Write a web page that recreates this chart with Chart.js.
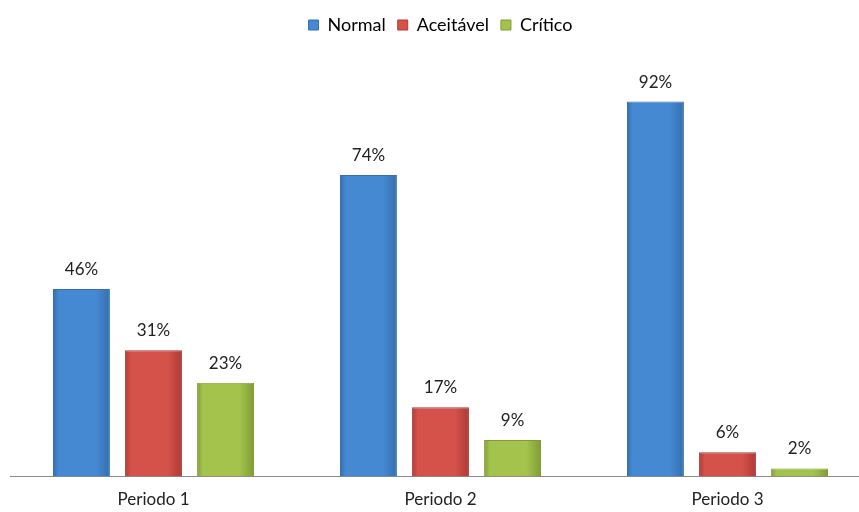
<!DOCTYPE html>
<html>
<head>
<meta charset="utf-8">
<script src="https://cdn.jsdelivr.net/npm/chart.js@4.4.0/dist/chart.umd.min.js"></script>
<style>
  html, body { margin: 0; padding: 0; background: #fff; overflow: hidden; }
  #wrap { width: 880px; height: 517px; position: relative; }
</style>
</head>
<body>
<div id="wrap"><canvas id="chart"></canvas></div>
<script>
// data
const periods = ['Periodo 1', 'Periodo 2', 'Periodo 3'];
const normal = [46, 74, 92];
const aceitavel = [31, 17, 6];
const critico = [23, 9, 2];

const seriesNames = ['Normal', 'Aceitável', 'Crítico'];
const fills = ['#4689d3', '#d5524b', '#a3c34c'];
const edges = ['#346fae', '#ad3a35', '#7f9c34'];
const catPct = 0.753;
const barPct = 0.79;
const font = 'Lato, "Open Sans", sans-serif';

// value labels on top of bars
const valueLabels = {
  id: 'valueLabels',
  afterDatasetsDraw(chart) {
    const ctx = chart.ctx;
    ctx.save();
    ctx.font = '17px ' + font;
    ctx.fillStyle = '#222';
    ctx.textAlign = 'center';
    ctx.textBaseline = 'bottom';
    chart.data.datasets.forEach((ds, i) => {
      chart.getDatasetMeta(i).data.forEach((bar, j) => {
        ctx.fillText(ds.data[j] + '%', bar.x, bar.y - 11);
      });
    });
    ctx.restore();
  }
};

// extra room under the legend
const legendGap = {
  id: 'legendGap',
  beforeInit(chart) {
    const fit = chart.legend.fit;
    chart.legend.fit = function () {
      fit.bind(chart.legend)();
      this.height += 25;
    };
  }
};

// horizontal shading like the original bevelled bars
function shade(i) {
  return function (c) {
    const xs = c.chart.scales.x;
    if (!xs || c.dataIndex === undefined) return fills[i];
    const cat = xs.width / periods.length;
    const slot = cat * catPct / 3;
    const w = slot * barPct;
    const cx = xs.getPixelForValue(c.dataIndex) + (i - 1) * slot;
    if (!isFinite(cx) || !isFinite(w)) return fills[i];
    const g = c.chart.ctx.createLinearGradient(cx - w / 2, 0, cx + w / 2, 0);
    g.addColorStop(0, edges[i]);
    g.addColorStop(0.1, fills[i]);
    g.addColorStop(0.75, fills[i]);
    g.addColorStop(1, edges[i]);
    return g;
  };
}

const ctx = document.getElementById('chart').getContext('2d');
new Chart(ctx, {
  type: 'bar',
  data: {
    labels: periods,
    datasets: [normal, aceitavel, critico].map((d, i) => ({
      label: seriesNames[i],
      data: d,
      backgroundColor: shade(i),
      borderColor: edges[i],
      borderWidth: 1,
      categoryPercentage: catPct,
      barPercentage: barPct
    }))
  },
  options: {
    responsive: true,
    maintainAspectRatio: false,
    animation: false,
    layout: { padding: { left: 10, right: 9, top: 4, bottom: 2 } },
    plugins: {
      legend: {
        position: 'top',
        labels: {
          boxWidth: 10,
          boxHeight: 10,
          padding: 12,
          color: '#222',
          font: { family: font, size: 18 },
          generateLabels(chart) {
            return chart.data.datasets.map((ds, i) => ({
              text: ds.label,
              fillStyle: fills[i],
              strokeStyle: edges[i],
              lineWidth: 1,
              datasetIndex: i
            }));
          }
        }
      },
      tooltip: { enabled: false }
    },
    scales: {
      x: {
        grid: { display: false },
        border: { display: true, color: '#8a8a8a', width: 1 },
        ticks: {
          color: '#222',
          padding: 5,
          font: { family: font, size: 17 }
        }
      },
      y: {
        display: false,
        min: 0,
        max: 100
      }
    }
  },
  plugins: [valueLabels, legendGap]
});
</script>
</body>
</html>
